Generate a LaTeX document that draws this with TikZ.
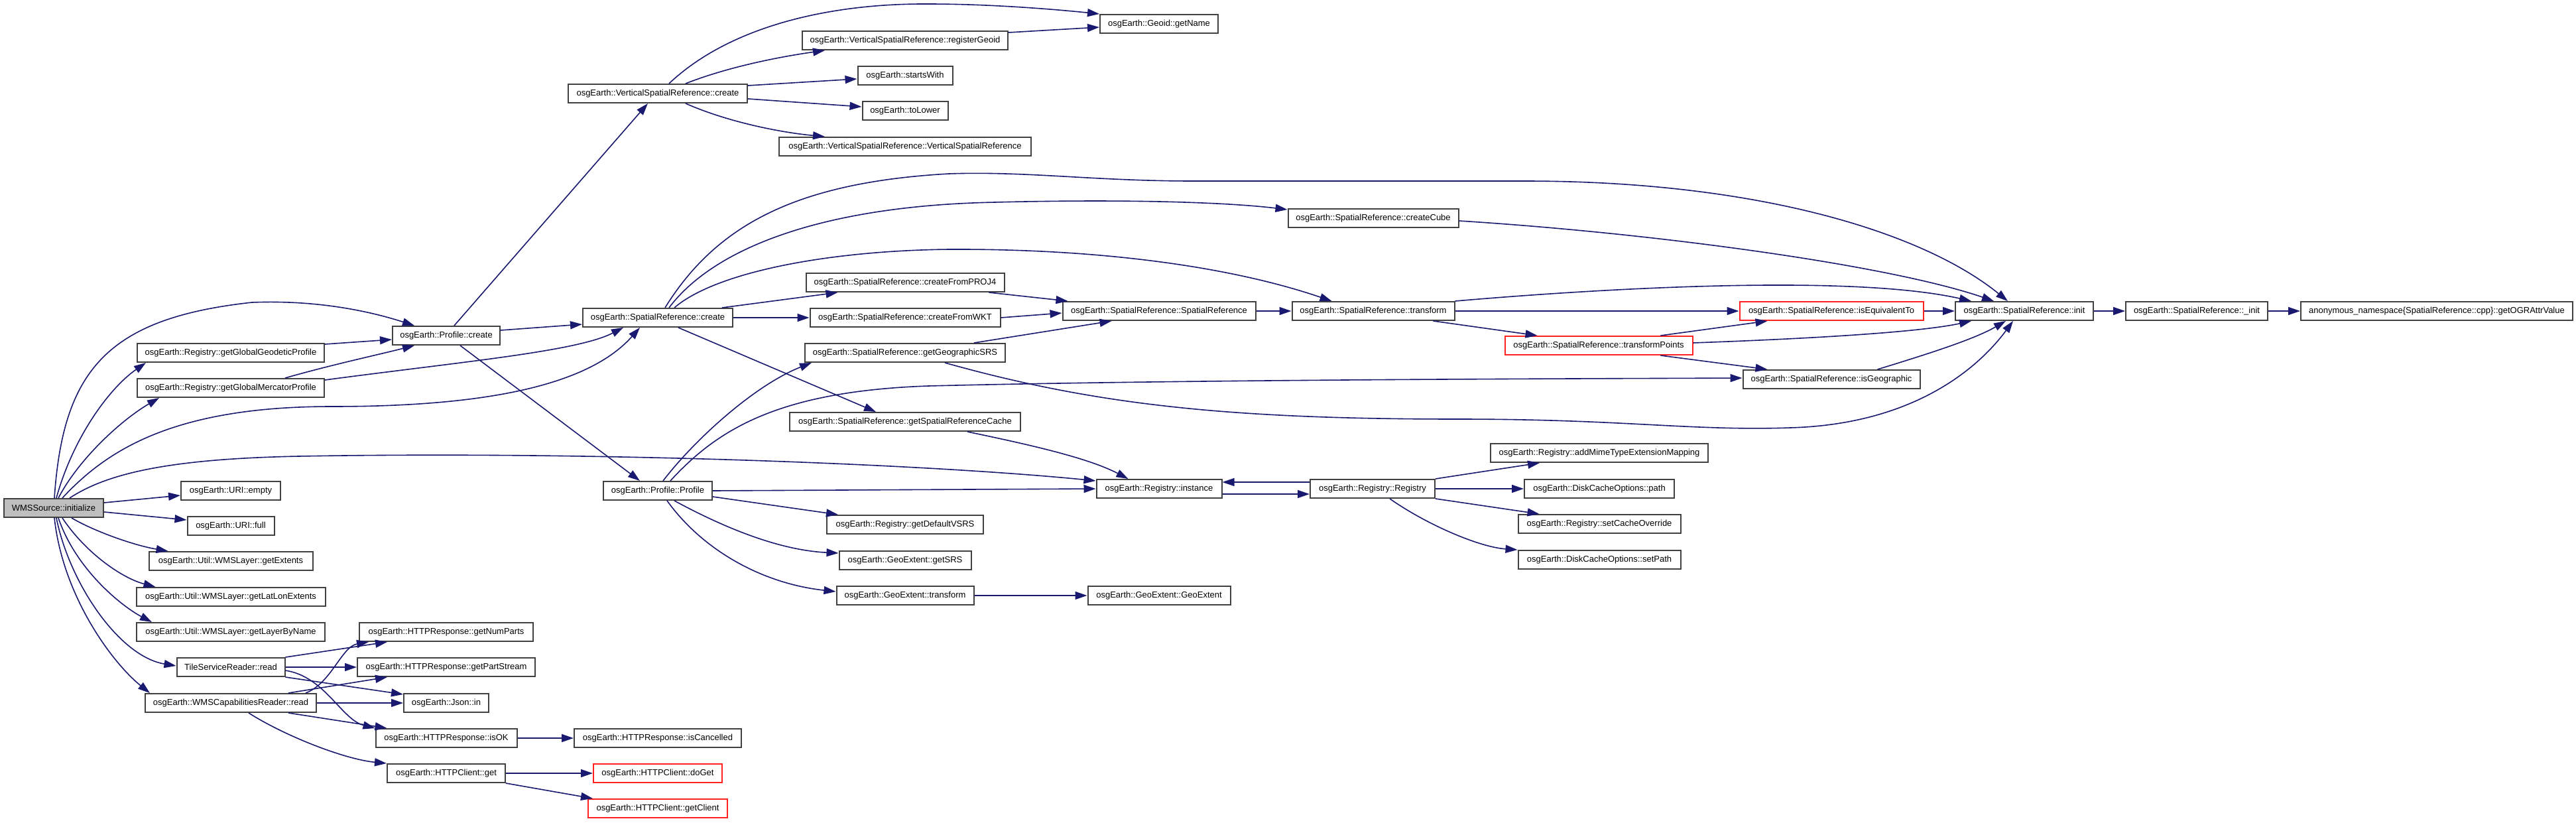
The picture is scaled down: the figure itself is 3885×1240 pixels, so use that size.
\documentclass[tikz,border=0pt]{standalone}
\usepackage{fontspec}
\setmainfont{Liberation Sans}
\usetikzlibrary{arrows.meta}
\definecolor{edgec}{HTML}{191970}
\definecolor{boxc}{HTML}{404040}
\definecolor{redc}{HTML}{FF2020}
\begin{document}
\begin{tikzpicture}[x=1pt,y=-1pt,
 fn/.style={draw=boxc, line width=2pt, fill=white, minimum height=28pt, inner sep=0pt, font=\fontsize{13}{15}\selectfont},
 rn/.style={fn, draw=redc},
 gn/.style={fn, fill=black!25},
 ed/.style={draw=edgec, line width=1.6pt, -{Triangle[length=18pt,width=12pt]}}]
\useasboundingbox (0,0) rectangle (3885,1240);
% column 1
\node[gn, minimum width=150pt] (n1) at (81,766) {WMSSource::initialize};
% column 2
\node[fn, minimum width=282pt] (ggp) at (348,532) {osgEarth::Registry::getGlobalGeodeticProfile};
\node[fn, minimum width=282pt] (gmp) at (348,585) {osgEarth::Registry::getGlobalMercatorProfile};
\node[fn, minimum width=150pt] (urie) at (348,740) {osgEarth::URI::empty};
\node[fn, minimum width=131pt] (urif) at (348,793) {osgEarth::URI::full};
\node[fn, minimum width=247pt] (gext) at (348,846) {osgEarth::Util::WMSLayer::getExtents};
\node[fn, minimum width=285pt] (glle) at (348,900) {osgEarth::Util::WMSLayer::getLatLonExtents};
\node[fn, minimum width=284pt] (glbn) at (348,953) {osgEarth::Util::WMSLayer::getLayerByName};
\node[fn, minimum width=163pt] (tsr) at (348,1006) {TileServiceReader::read};
\node[fn, minimum width=258pt] (wcr) at (348,1060) {osgEarth::WMSCapabilitiesReader::read};
% column 3
\node[fn, minimum width=162pt] (pc) at (673,506) {osgEarth::Profile::create};
\node[fn, minimum width=262pt] (gnp) at (673,953) {osgEarth::HTTPResponse::getNumParts};
\node[fn, minimum width=268pt] (gps) at (673,1006) {osgEarth::HTTPResponse::getPartStream};
\node[fn, minimum width=128pt] (jin) at (673,1060) {osgEarth::Json::in};
\node[fn, minimum width=213pt] (isok) at (673,1113) {osgEarth::HTTPResponse::isOK};
\node[fn, minimum width=178pt] (hget) at (673,1166) {osgEarth::HTTPClient::get};
% column 4
\node[fn, minimum width=270pt] (vsrc) at (992,141) {osgEarth::VerticalSpatialReference::create};
\node[fn, minimum width=226pt] (src) at (992,479) {osgEarth::SpatialReference::create};
\node[fn, minimum width=164pt] (pp) at (992,740) {osgEarth::Profile::Profile};
\node[fn, minimum width=252pt] (iscan) at (992,1113) {osgEarth::HTTPResponse::isCancelled};
\node[rn, minimum width=194pt] (doget) at (992,1166) {osgEarth::HTTPClient::doGet};
\node[rn, minimum width=210pt] (getcl) at (992,1219) {osgEarth::HTTPClient::getClient};
% column 5
\node[fn, minimum width=310pt] (regg) at (1365,61) {osgEarth::VerticalSpatialReference::registerGeoid};
\node[fn, minimum width=143pt] (sw) at (1365,114) {osgEarth::startsWith};
\node[fn, minimum width=129pt] (tl) at (1365,167) {osgEarth::toLower};
\node[fn, minimum width=380pt] (vsrvsr) at (1365,221) {osgEarth::VerticalSpatialReference::VerticalSpatialReference};
\node[fn, minimum width=299pt] (cfp) at (1365,426) {osgEarth::SpatialReference::createFromPROJ4};
\node[fn, minimum width=287pt] (cfw) at (1365,479) {osgEarth::SpatialReference::createFromWKT};
\node[fn, minimum width=302pt] (ggs) at (1365,532) {osgEarth::SpatialReference::getGeographicSRS};
\node[fn, minimum width=348pt] (gsrc) at (1365,636) {osgEarth::SpatialReference::getSpatialReferenceCache};
\node[fn, minimum width=236pt] (gdv) at (1365,791) {osgEarth::Registry::getDefaultVSRS};
\node[fn, minimum width=199pt] (gsrs) at (1365,845) {osgEarth::GeoExtent::getSRS};
\node[fn, minimum width=207pt] (getr) at (1365,898) {osgEarth::GeoExtent::transform};
% column 6
\node[fn, minimum width=178pt] (gname) at (1748,36) {osgEarth::Geoid::getName};
\node[fn, minimum width=291pt] (srsr) at (1748,469) {osgEarth::SpatialReference::SpatialReference};
\node[fn, minimum width=189pt] (rinst) at (1748,737) {osgEarth::Registry::instance};
\node[fn, minimum width=215pt] (gege) at (1748,898) {osgEarth::GeoExtent::GeoExtent};
% column 7
\node[fn, minimum width=257pt] (ccube) at (2071,329) {osgEarth::SpatialReference::createCube};
\node[fn, minimum width=245pt] (srtr) at (2071,469) {osgEarth::SpatialReference::transform};
\node[fn, minimum width=188pt] (rreg) at (2070,737) {osgEarth::Registry::Registry};
% column 8
\node[rn, minimum width=283pt] (tpts) at (2411,521) {osgEarth::SpatialReference::transformPoints};
\node[fn, minimum width=328pt] (addm) at (2412,683) {osgEarth::Registry::addMimeTypeExtensionMapping};
\node[fn, minimum width=226pt] (dcp) at (2412,737) {osgEarth::DiskCacheOptions::path};
\node[fn, minimum width=245pt] (sco) at (2412,790) {osgEarth::Registry::setCacheOverride};
\node[fn, minimum width=245pt] (sp) at (2412,844) {osgEarth::DiskCacheOptions::setPath};
% column 9+
\node[rn, minimum width=277pt] (iseq) at (2762,469) {osgEarth::SpatialReference::isEquivalentTo};
\node[fn, minimum width=267pt] (isgeo) at (2762,572) {osgEarth::SpatialReference::isGeographic};
\node[fn, minimum width=208pt] (sinit) at (3053,469) {osgEarth::SpatialReference::init};
\node[fn, minimum width=214pt] (sinitb) at (3313,469) {osgEarth::SpatialReference::\_init};
\node[fn, minimum width=410pt] (anon) at (3675,469) {anonymous\_namespace\{SpatialReference::cpp\}::getOGRAttrValue};

% edges from WMSSource::initialize
\draw[ed] ([xshift=77pt]n1.north west) .. controls (95,560) and (160,480) .. (380,456) .. controls (480,452) and (560,470) .. ([xshift=34pt]pc.north west);
\draw[ed] ([xshift=80pt]n1.north west) .. controls (110,660) and (165,585) .. ([xshift=14pt]ggp.south west);
\draw[ed] ([xshift=83pt]n1.north west) .. controls (120,690) and (185,632) .. ([xshift=34pt]gmp.south west);
\draw[ed] ([xshift=89pt]n1.north west) .. controls (160,680) and (260,613) .. (500,613) .. controls (700,613) and (880,590) .. ([xshift=87pt]src.south west);
\draw[ed] ([xshift=100pt]n1.north west) .. controls (160,715) and (250,692) .. (450,688) .. controls (900,680) and (1400,700) .. ([yshift=-3pt]rinst.north west);
\draw[ed] ([yshift=-7pt]n1.north east) -- ([yshift=-22pt]urie.north west);
\draw[ed] ([yshift=-21pt]n1.north east) -- ([yshift=-6pt]urif.north west);
\draw[ed] ([xshift=103pt]n1.south west) .. controls (140,800) and (200,822) .. ([xshift=30pt]gext.north west);
\draw[ed] ([xshift=89pt]n1.south west) .. controls (130,835) and (185,872) .. ([xshift=30pt]glle.north west);
\draw[ed] ([xshift=83pt]n1.south west) .. controls (115,860) and (185,915) .. ([xshift=24pt]glbn.north west);
\draw[ed] ([xshift=80pt]n1.south west) .. controls (105,880) and (180,990) .. ([yshift=-13pt]tsr.north west);
\draw[ed] ([xshift=77pt]n1.south west) .. controls (95,900) and (170,1000) .. ([xshift=8pt]wcr.north west);
% profiles
\draw[ed] ([yshift=-2pt]ggp.north east) -- ([yshift=-21pt]pc.north west);
\draw[ed] ([xshift=224pt]gmp.north west) .. controls (500,550) and (570,535) .. ([xshift=34pt]pc.south west);
\draw[ed] ([yshift=-3pt]gmp.north east) .. controls (700,545) and (870,530) .. ([xshift=62pt]src.south west);
\draw[ed] ([yshift=-7pt]pc.north east) -- ([yshift=-25pt]src.north west);
\draw[ed] ([xshift=94pt]pc.north west) -- ([xshift=121pt]vsrc.south west);
\draw[ed] ([xshift=103pt]pc.south west) -- ([xshift=56pt]pp.north west);
% readers
\draw[ed] (tsr.north east) -- ([xshift=43pt]gnp.south west);
\draw[ed] (tsr.east) -- (gps.west);
\draw[ed] (tsr.south east) -- ([yshift=-2pt]jin.north west);
\draw[ed] ([yshift=-20pt]tsr.north east) .. controls (490,1020) and (515,1085) .. (isok.north west);
\draw[ed] ([xshift=243pt]wcr.north west) .. controls (500,1030) and (515,975) .. ([xshift=15pt]gnp.south west);
\draw[ed] ([xshift=217pt]wcr.north west) -- ([xshift=46pt]gps.south west);
\draw[ed] (wcr.east) -- (jin.west);
\draw[ed] ([xshift=217pt]wcr.south west) -- ([xshift=18pt]isok.north west);
\draw[ed] ([xshift=157pt]wcr.south west) .. controls (430,1110) and (520,1145) .. (hget.north west);
\draw[ed] (isok.east) -- (iscan.west);
\draw[ed] (hget.east) -- (doget.west);
\draw[ed] (hget.south east) -- ([xshift=8pt]getcl.north west);
% Profile::Profile
\draw[ed] (pp.east) -- (rinst.west);
\draw[ed] ([yshift=-24pt]pp.north east) -- ([xshift=18pt]gdv.north west);
\draw[ed] ([xshift=108pt]pp.south west) .. controls (1100,800) and (1180,830) .. ([yshift=-4pt]gsrs.north west);
\draw[ed] ([xshift=97pt]pp.south west) .. controls (1060,830) and (1150,880) .. ([yshift=-9pt]getr.north west);
\draw[ed] ([xshift=91pt]pp.north west) .. controls (1050,660) and (1140,580) .. ([xshift=11pt]ggs.south west);
\draw[ed] ([xshift=102pt]pp.north west) .. controls (1080,650) and (1170,590) .. (1400,582) .. controls (1800,572) and (2400,571) .. ([yshift=-13pt]isgeo.north west);
% SpatialReference::create
\draw[ed] ([xshift=211pt]src.north west) -- ([xshift=49pt]cfp.south west);
\draw[ed] (src.east) -- (cfw.west);
\draw[ed] ([xshift=145pt]src.south west) -- ([xshift=131pt]gsrc.north west);
\draw[ed] ([xshift=131pt]src.north west) .. controls (1080,370) and (1250,310) .. (1500,305) .. controls (1700,300) and (1850,305) .. ([yshift=-2pt]ccube.north west);
\draw[ed] ([xshift=125pt]src.north west) .. controls (1080,340) and (1200,275) .. (1431,262) .. controls (1550,258) and (1650,273) .. (1800,273) -- (2300,273) .. controls (2650,273) and (2900,350) .. ([xshift=80pt]sinit.north west);
\draw[ed] ([xshift=139pt]src.north west) .. controls (1080,410) and (1250,378) .. (1431,376) .. controls (1650,375) and (1850,400) .. ([xshift=61pt]srtr.north west);
% VerticalSpatialReference::create
\draw[ed] ([xshift=153pt]vsrc.north west) .. controls (1100,40) and (1250,5) .. (1400,6) .. controls (1500,6) and (1600,15) .. (gname.north west);
\draw[ed] ([xshift=178pt]vsrc.north west) .. controls (1100,100) and (1180,85) .. ([xshift=35pt]regg.south west);
\draw[ed] ([yshift=-3pt]vsrc.north east) -- ([yshift=-20pt]sw.north west);
\draw[ed] ([yshift=-23pt]vsrc.north east) -- ([yshift=-9pt]tl.north west);
\draw[ed] ([xshift=178pt]vsrc.south west) .. controls (1100,185) and (1180,200) .. ([xshift=70pt]vsrvsr.north west);
\draw[ed] ([yshift=-3pt]regg.north east) -- ([yshift=-20pt]gname.north west);
% towards SpatialReference::SpatialReference and init
\draw[ed] ([xshift=277pt]cfp.south west) -- ([xshift=9pt]srsr.north west);
\draw[ed] (cfw.east) -- ([yshift=-18pt]srsr.north west);
\draw[ed] ([xshift=256pt]ggs.north west) -- ([xshift=75pt]srsr.south west);
\draw[ed] ([xshift=212pt]ggs.south west) .. controls (1650,610) and (1850,632) .. (2200,632) .. controls (2450,632) and (2550,650) .. (2700,645) .. controls (2880,640) and (2980,560) .. ([xshift=88pt]sinit.south west);
\draw[ed] ([xshift=269pt]gsrc.south west) .. controls (1550,670) and (1640,690) .. ([xshift=49pt]rinst.north west);
\draw[ed] (srsr.east) -- (srtr.west);
\draw[ed] ([xshift=214pt]srtr.south west) -- ([xshift=50pt]tpts.north west);
\draw[ed] (srtr.east) -- (iseq.west);
\draw[ed] (srtr.north east) .. controls (2450,432) and (2800,415) .. ([xshift=25pt]sinit.north west);
\draw[ed] ([yshift=-19pt]ccube.north east) .. controls (2500,352) and (2850,400) .. ([xshift=59pt]sinit.north west);
\draw[ed] ([xshift=236pt]tpts.north west) -- ([xshift=43pt]iseq.south west);
\draw[ed] ([yshift=-11pt]tpts.north east) .. controls (2750,510) and (2900,500) .. ([xshift=25pt]sinit.south west);
\draw[ed] ([xshift=236pt]tpts.south west) -- ([xshift=38pt]isgeo.north west);
\draw[ed] (iseq.east) -- (sinit.west);
\draw[ed] ([xshift=204pt]isgeo.north west) .. controls (2920,530) and (2980,510) .. ([xshift=77pt]sinit.south west);
\draw[ed] (sinit.east) -- (sinitb.west);
\draw[ed] (sinitb.east) -- (anon.west);
% Registry
\draw[ed] ([yshift=-23pt]rinst.north east) -- ([yshift=-23pt]rreg.north west);
\draw[ed] ([yshift=-5pt]rreg.north west) -- ([yshift=-5pt]rinst.north east);
\draw[ed] (rreg.north east) -- ([xshift=75pt]addm.south west);
\draw[ed] (rreg.east) -- (dcp.west);
\draw[ed] (rreg.south east) -- ([xshift=33pt]sco.north west);
\draw[ed] ([xshift=121pt]rreg.south west) .. controls (2150,790) and (2230,825) .. (sp.north west);
\draw[ed] (getr.east) -- (gege.west);
\end{tikzpicture}
\end{document}
